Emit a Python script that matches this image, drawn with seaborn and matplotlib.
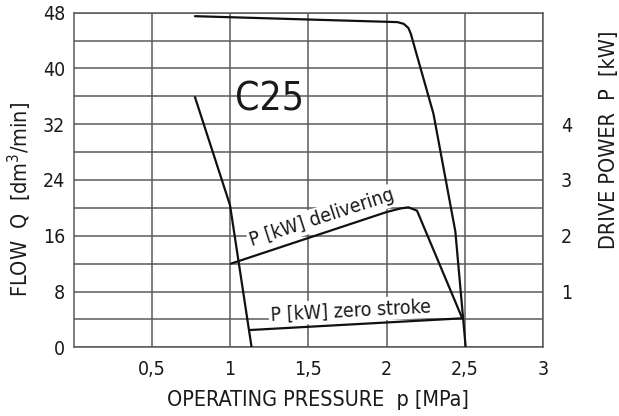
import matplotlib
matplotlib.use("Agg")
import matplotlib.pyplot as plt
import seaborn as sns
import pandas as pd

# ---- data ----
flow_max_p = [0.776, 2.07, 2.11, 2.14, 2.155, 2.30, 2.44, 2.506]
flow_max_q = [47.5, 46.65, 46.4, 45.8, 45.0, 33.5, 16.6, 0.0]

flow_min_p = [0.776, 1.0, 1.138]
flow_min_q = [35.9, 20.4, 0.0]

power_deliv_p = [1.006, 2.0, 2.09, 2.14, 2.195, 2.484]
power_deliv_kw = [1.50, 2.425, 2.49, 2.51, 2.45, 0.52]

power_zero_p = [1.128, 2.484]
power_zero_kw = [0.31, 0.52]

x_ticks = [0.5, 1.0, 1.5, 2.0, 2.5, 3.0]
x_ticklabels = ["0,5", "1", "1,5", "2", "2,5", "3"]
y_ticks = [0, 8, 16, 24, 32, 40, 48]
p_ticks = [1, 2, 3, 4]

sns.set_style("white")
plt.rcParams["font.family"] = ["DejaVu Sans"]
plt.rcParams["font.stretch"] = "condensed"

fig = plt.figure(figsize=(6.19, 4.16), dpi=100)
ax = fig.add_axes([73.5 / 619, 1 - 347.3 / 416, (543 - 73.5) / 619, (347.3 - 12.7) / 416])

grid_c = "#5a5a5a"
line_c = "#111111"
text_c = "#1a1a1a"

df_max = pd.DataFrame({"p": flow_max_p, "q": flow_max_q})
df_min = pd.DataFrame({"p": flow_min_p, "q": flow_min_q})
sns.lineplot(data=df_max, x="p", y="q", sort=False, ax=ax, color=line_c, lw=1.6, zorder=4)
sns.lineplot(data=df_min, x="p", y="q", sort=False, ax=ax, color=line_c, lw=1.6, zorder=4)

ax.set_xlim(0, 3)
ax.set_ylim(0, 48)
ax.set_xticks(x_ticks)
ax.set_xticklabels(x_ticklabels)
ax.set_yticks(y_ticks)
ax.set_yticks(list(range(4, 48, 8)), minor=True)
ax.grid(True, which="both", color=grid_c, lw=1.1, zorder=0)
ax.set_axisbelow(True)
ax.tick_params(axis="both", which="both", length=0, labelsize=14, colors=text_c)
ax.tick_params(axis="y", pad=6)
ax.tick_params(axis="x", pad=9)
ax.set_xlabel("")
ax.set_ylabel("")
for s in ax.spines.values():
    s.set_color(grid_c)
    s.set_linewidth(1.1)

ax2 = ax.twinx()
df_d = pd.DataFrame({"p": power_deliv_p, "P": power_deliv_kw})
df_z = pd.DataFrame({"p": power_zero_p, "P": power_zero_kw})
sns.lineplot(data=df_d, x="p", y="P", sort=False, ax=ax2, color=line_c, lw=1.6)
sns.lineplot(data=df_z, x="p", y="P", sort=False, ax=ax2, color=line_c, lw=1.6)
ax2.set_ylim(0, 6)
ax2.set_yticks(p_ticks)
ax2.tick_params(axis="y", length=0, labelsize=14, pad=13, colors=text_c)
ax2.set_ylabel("")
ax2.set_xlabel("")
ax2.grid(False)
for s in ax2.spines.values():
    s.set_visible(False)

bbox = dict(facecolor="white", edgecolor="none", pad=1.5)
ax.text(1.59, 18.6, "P [kW] delivering", rotation=18, ha="center", va="center",
        fontsize=14, color=text_c, bbox=bbox, zorder=2, rotation_mode="anchor")
ax.text(1.773, 5.3, "P [kW] zero stroke", rotation=3, ha="center", va="center",
        fontsize=14, color=text_c, bbox=bbox, zorder=2, rotation_mode="anchor")
ax.text(1.255, 35.6, "C25", ha="center", va="center", fontsize=28, color=text_c, zorder=2)

fig.text(20 / 619, 1 - 199 / 416, "FLOW  Q  [dm$^3$/min]", rotation=90,
         ha="center", va="center", fontsize=15.5, color=text_c)
fig.text(609 / 619, 1 - 140 / 416, "DRIVE POWER  P  [kW]", rotation=90,
         ha="center", va="center", fontsize=15.5, color=text_c)
fig.text(318 / 619, 1 - 400 / 416, "OPERATING PRESSURE  p [MPa]",
         ha="center", va="center", fontsize=15.5, color=text_c)

fig.savefig("out.png", dpi=100, facecolor="white")
